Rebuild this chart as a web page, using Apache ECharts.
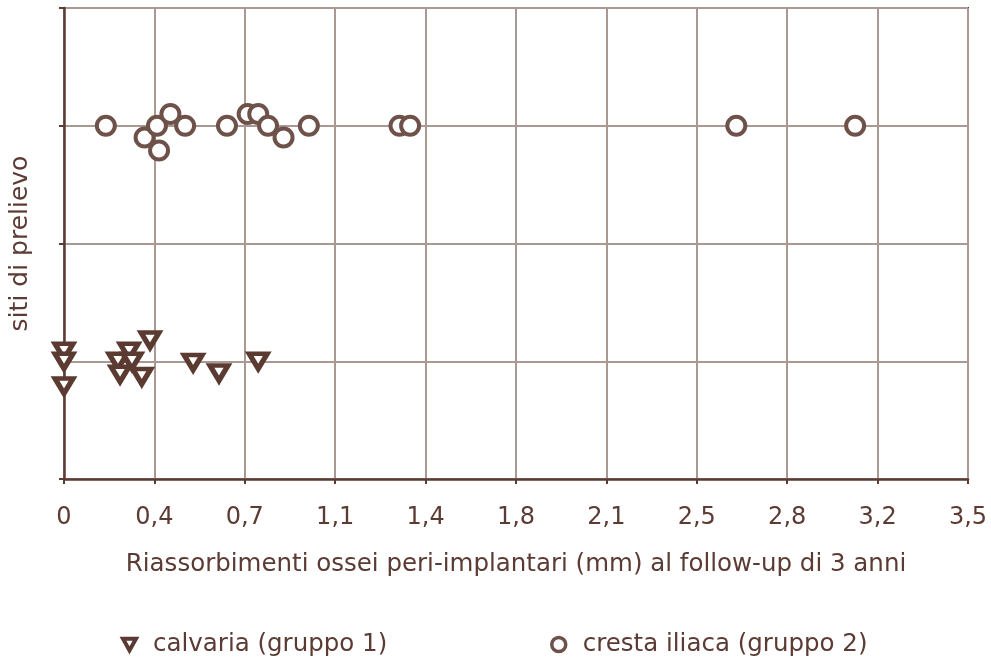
<!DOCTYPE html>
<html>
<head>
<meta charset="utf-8">
<script src="https://cdn.jsdelivr.net/npm/echarts@6/dist/echarts.min.js"></script>
<style>
  html, body { margin: 0; padding: 0; background: #fff; }
  #chart { width: 991px; height: 666px; }
</style>
</head>
<body>
<div id="chart"></div>
<script>
// gruppo 1: calvaria (x = riassorbimento mm, y = posizione nella fascia 1)
const calvariaX = [0, 0, 0, 0.209, 0.252, 0.217, 0.263, 0.301, 0.333, 0.5, 0.6, 0.752]
const calvariaY = [1.085, 1.0, 0.79, 1.0, 1.085, 0.89, 1.0, 0.87, 1.18, 0.99, 0.9, 1.0]

// gruppo 2: cresta iliaca
const crestaX = [0.162, 0.312, 0.36, 0.368, 0.412, 0.469, 0.631, 0.711, 0.752, 0.79, 0.85, 0.948, 1.299, 1.34, 2.603, 3.063]
const crestaY = [3, 2.9, 3, 2.79, 3.1, 3, 3, 3.1, 3.1, 3, 2.9, 3, 3, 3, 3, 3]

const xTickLabels = ['0', '0,4', '0,7', '1,1', '1,4', '1,8', '2,1', '2,5', '2,8', '3,2', '3,5']
const xStep = 0.35

const seriesNames = ['calvaria (gruppo 1)', 'cresta iliaca (gruppo 2)']

const textColor = '#5b3b33'
const darkLine = '#5b3b33'
const gridColor = '#aa9892'
const font = 'DejaVu Sans, sans-serif'

// triangolo verso il basso per la legenda
const downTriangle = 'path://M0,0 L10,0 L5,9 Z'

const pairs = (xs, ys) => xs.map((x, i) => [x, ys[i]])

const chart = echarts.init(document.getElementById('chart'))
chart.setOption({
  animation: false,
  textStyle: { fontFamily: font, color: textColor },
  grid: {
    left: 62, right: 23, top: 8, bottom: 187,
    show: true, borderColor: darkLine, borderWidth: 2
  },
  legend: [
    {
      data: [{ name: seriesNames[0], icon: downTriangle }],
      left: 116, top: 627,
      itemWidth: 13, itemHeight: 12,
      itemStyle: { color: '#fff', borderColor: '#5b3a32', borderWidth: 4 },
      textStyle: { fontSize: 24.5, color: textColor, fontFamily: font, padding: [0, 0, 0, 12] }
    },
    {
      data: [seriesNames[1]],
      left: 545, top: 627,
      itemWidth: 14, itemHeight: 14,
      itemStyle: { borderWidth: 3.5 },
      textStyle: { fontSize: 24.5, color: textColor, fontFamily: font, padding: [0, 0, 0, 12] }
    }
  ],
  xAxis: {
    type: 'value',
    min: 0, max: 3.5, interval: xStep,
    name: 'Riassorbimenti ossei peri-implantari (mm) al follow-up di 3 anni',
    nameLocation: 'middle',
    nameGap: 73,
    nameTextStyle: { fontSize: 24.5, color: textColor, fontFamily: font },
    axisLine: { lineStyle: { color: darkLine, width: 2.5 } },
    axisTick: { show: true, length: 5, lineStyle: { color: darkLine, width: 2 } },
    axisLabel: {
      fontSize: 24, color: textColor, fontFamily: font, margin: 27,
      formatter: v => xTickLabels[Math.round(v / xStep)]
    },
    splitLine: { show: true, lineStyle: { color: gridColor, width: 2 } }
  },
  yAxis: {
    type: 'value',
    min: 0, max: 4, interval: 1,
    name: 'siti di prelievo',
    nameLocation: 'middle',
    nameGap: 31,
    nameTextStyle: { fontSize: 25, color: textColor, fontFamily: font },
    axisLine: { show: true, lineStyle: { color: darkLine, width: 2.5 } },
    axisTick: { show: true, length: 5, lineStyle: { color: darkLine, width: 2 } },
    axisLabel: { show: false },
    splitLine: { show: true, lineStyle: { color: gridColor, width: 2 } }
  },
  series: [
    {
      name: seriesNames[0],
      type: 'scatter',
      data: pairs(calvariaX, calvariaY),
      symbol: 'triangle',
      symbolRotate: 180,
      symbolSize: [18, 15],
      itemStyle: { color: '#fff', borderColor: '#5b3a32', borderWidth: 5, opacity: 1 }
    },
    {
      name: seriesNames[1],
      type: 'scatter',
      data: pairs(crestaX, crestaY),
      symbol: 'circle',
      symbolSize: 18,
      itemStyle: { color: '#fff', borderColor: '#6e5249', borderWidth: 4, opacity: 1 }
    }
  ]
})
</script>
</body>
</html>
